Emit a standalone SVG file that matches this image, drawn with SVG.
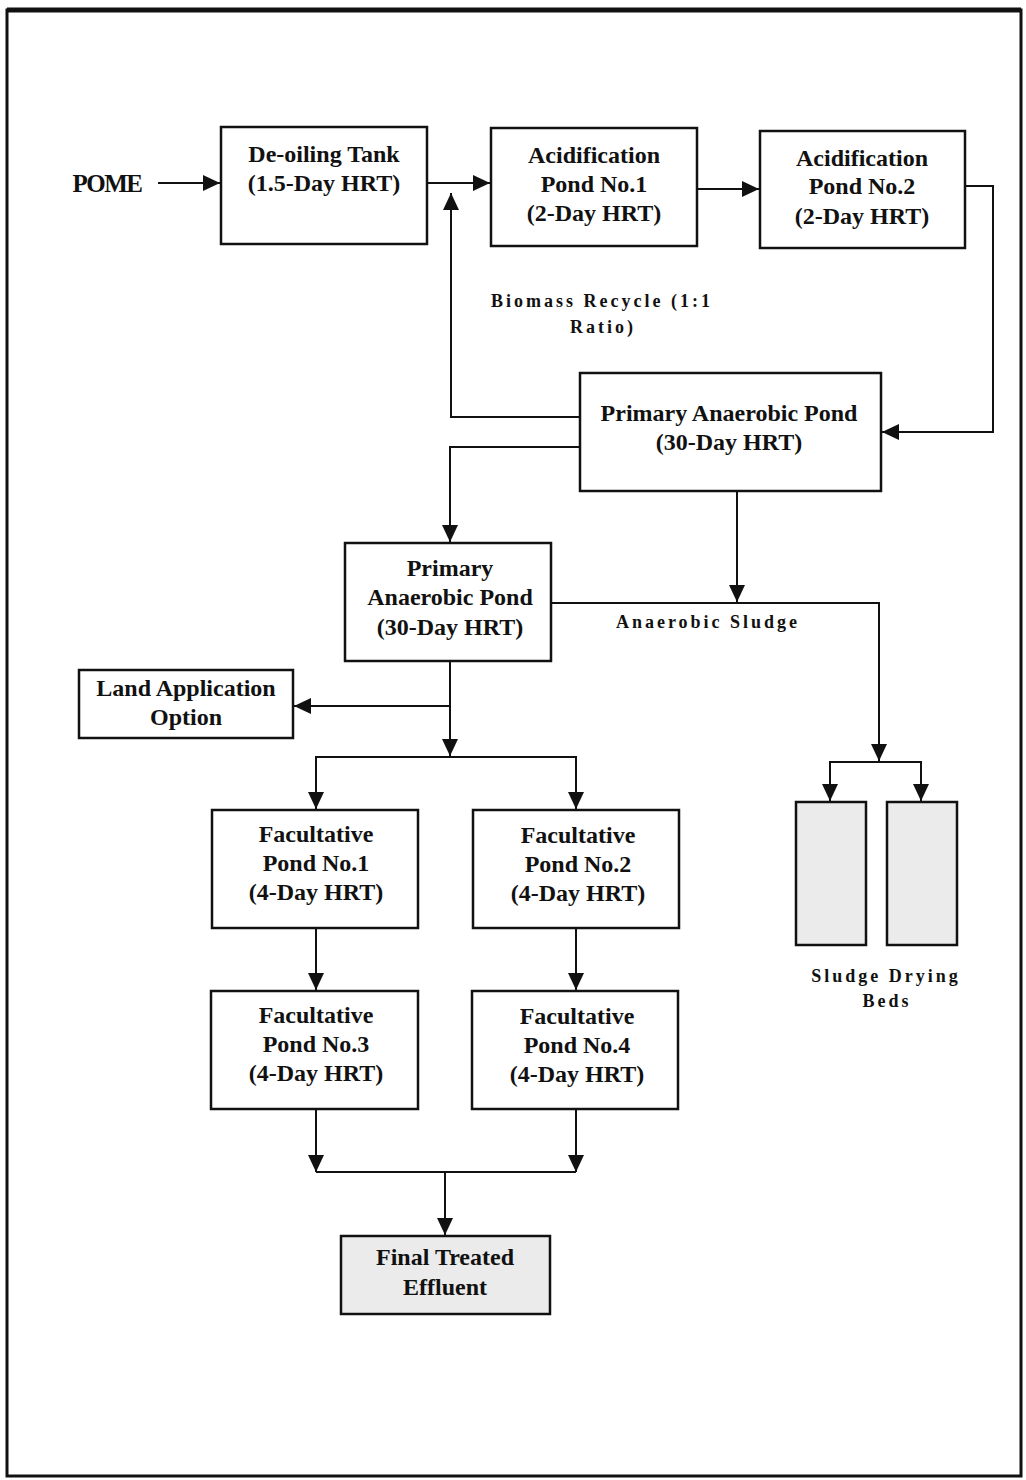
<svg xmlns="http://www.w3.org/2000/svg" width="1026" height="1480" viewBox="0 0 1026 1480">
<style>
.box{fill:#fff;stroke:#111;stroke-width:2.5}
.grey{fill:#ebebeb;stroke:#111;stroke-width:2.5}
.t{font-family:"Liberation Serif","Times New Roman",serif;font-weight:bold;font-size:24px;fill:#111;text-anchor:middle}
.lbl{font-family:"Liberation Serif","Times New Roman",serif;font-weight:bold;font-size:18px;fill:#111;text-anchor:middle;letter-spacing:3px}
.c{fill:none;stroke:#111;stroke-width:2}
</style>
<defs>
<marker id="ah" markerUnits="userSpaceOnUse" markerWidth="18" markerHeight="18" viewBox="0 0 18 18" refX="17" refY="9" orient="auto">
<path d="M0,1 L17,9 L0,17 Z" fill="#111"/>
</marker>
</defs>
<rect x="0" y="0" width="1026" height="1480" fill="#fff"/>
<rect x="7" y="10" width="1014" height="1466" fill="none" stroke="#111" stroke-width="3"/>
<line x1="7" y1="10" x2="1021" y2="10" stroke="#111" stroke-width="5"/>

<g id="connectors">
<path class="c" d="M158,183 H220" marker-end="url(#ah)"/>
<path class="c" d="M427,183 H490" marker-end="url(#ah)"/>
<path class="c" d="M697,189 H759" marker-end="url(#ah)"/>
<path class="c" d="M965,186 H993 V432 H882" marker-end="url(#ah)"/>
<path class="c" d="M580,417 H451 V193" marker-end="url(#ah)"/>
<path class="c" d="M580,447 H450 V542" marker-end="url(#ah)"/>
<path class="c" d="M737,491 V602" marker-end="url(#ah)"/>
<path class="c" d="M551,603 H879 V761" marker-end="url(#ah)"/>
<path class="c" d="M879,762 H830 V801" marker-end="url(#ah)"/>
<path class="c" d="M879,762 H921 V801" marker-end="url(#ah)"/>
<path class="c" d="M450,661 V756" marker-end="url(#ah)"/>
<path class="c" d="M450,706 H294" marker-end="url(#ah)"/>
<path class="c" d="M450,757 H316 V809" marker-end="url(#ah)"/>
<path class="c" d="M450,757 H576 V809" marker-end="url(#ah)"/>
<path class="c" d="M316,928 V990" marker-end="url(#ah)"/>
<path class="c" d="M576,928 V990" marker-end="url(#ah)"/>
<path class="c" d="M316,1109 V1172" marker-end="url(#ah)"/>
<path class="c" d="M576,1109 V1172" marker-end="url(#ah)"/>
<path class="c" d="M316,1172 H576"/>
<path class="c" d="M445,1172 V1235" marker-end="url(#ah)"/>
</g>

<g id="pome"><text x="107" y="192" class="t" style="letter-spacing:-1.5px;font-size:25px">POME</text></g>

<g id="deoiling">
<rect class="box" x="221" y="127" width="206" height="117"/>
<text class="t" x="324" y="162">De-oiling Tank</text>
<text class="t" x="324" y="191">(1.5-Day HRT)</text>
</g>

<g id="acid1">
<rect class="box" x="491" y="128" width="206" height="118"/>
<text class="t" x="594" y="163">Acidification</text>
<text class="t" x="594" y="192">Pond No.1</text>
<text class="t" x="594" y="221">(2-Day HRT)</text>
</g>

<g id="acid2">
<rect class="box" x="760" y="131" width="205" height="117"/>
<text class="t" x="862" y="166">Acidification</text>
<text class="t" x="862" y="194">Pond No.2</text>
<text class="t" x="862" y="224">(2-Day HRT)</text>
</g>

<g id="recycle-label">
<text class="lbl" x="602" y="307">Biomass Recycle (1:1</text>
<text class="lbl" x="603" y="333">Ratio)</text>
</g>

<g id="primary1">
<rect class="box" x="580" y="373" width="301" height="118"/>
<text class="t" x="729" y="421">Primary Anaerobic Pond</text>
<text class="t" x="729" y="450">(30-Day HRT)</text>
</g>

<g id="primary2">
<rect class="box" x="345" y="543" width="206" height="118"/>
<text class="t" x="450" y="576">Primary</text>
<text class="t" x="450" y="605">Anaerobic Pond</text>
<text class="t" x="450" y="635">(30-Day HRT)</text>
</g>

<g id="sludge-label"><text class="lbl" x="708" y="628">Anaerobic Sludge</text></g>

<g id="land">
<rect class="box" x="79" y="670" width="214" height="68"/>
<text class="t" x="186" y="696">Land Application</text>
<text class="t" x="186" y="725">Option</text>
</g>

<g id="beds">
<rect class="grey" x="796" y="802" width="70" height="143"/>
<rect class="grey" x="887" y="802" width="70" height="143"/>
<text class="lbl" x="886" y="982">Sludge Drying</text>
<text class="lbl" x="887" y="1007">Beds</text>
</g>

<g id="fac1">
<rect class="box" x="212" y="810" width="206" height="118"/>
<text class="t" x="316" y="842">Facultative</text>
<text class="t" x="316" y="871">Pond No.1</text>
<text class="t" x="316" y="900">(4-Day HRT)</text>
</g>
<g id="fac2">
<rect class="box" x="473" y="810" width="206" height="118"/>
<text class="t" x="578" y="843">Facultative</text>
<text class="t" x="578" y="872">Pond No.2</text>
<text class="t" x="578" y="901">(4-Day HRT)</text>
</g>
<g id="fac3">
<rect class="box" x="211" y="991" width="207" height="118"/>
<text class="t" x="316" y="1023">Facultative</text>
<text class="t" x="316" y="1052">Pond No.3</text>
<text class="t" x="316" y="1081">(4-Day HRT)</text>
</g>
<g id="fac4">
<rect class="box" x="472" y="991" width="206" height="118"/>
<text class="t" x="577" y="1024">Facultative</text>
<text class="t" x="577" y="1053">Pond No.4</text>
<text class="t" x="577" y="1082">(4-Day HRT)</text>
</g>

<g id="final">
<rect class="grey" x="341" y="1236" width="209" height="78"/>
<text class="t" x="445" y="1265">Final Treated</text>
<text class="t" x="445" y="1295">Effluent</text>
</g>
</svg>
